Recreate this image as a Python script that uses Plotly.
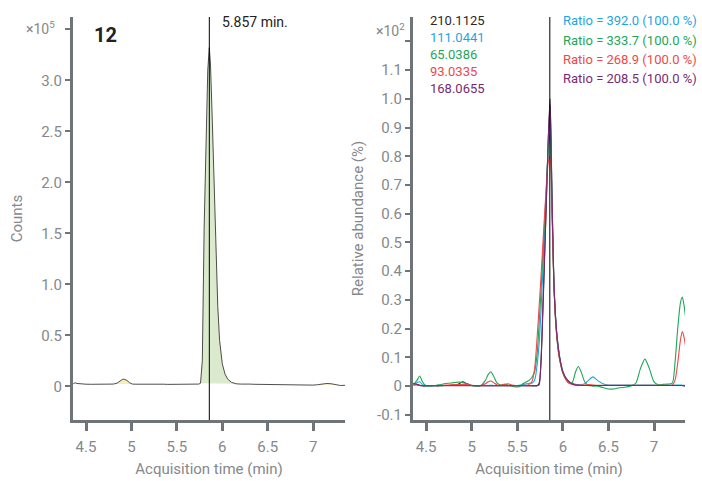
import plotly.graph_objects as go

# ---------------- data ----------------
# Left panel: TIC-like chromatogram (Counts, x10^5)
t_left = [4.36, 4.38, 4.40, 4.45, 4.50, 4.55, 4.60, 4.65, 4.70, 4.75, 4.80, 4.84, 4.87, 4.90,
          4.92, 4.95, 4.98, 5.01, 5.05, 5.10, 5.15, 5.20, 5.25, 5.30, 5.35, 5.40, 5.45, 5.50,
          5.55, 5.60, 5.65, 5.70, 5.74, 5.76, 5.78, 5.80, 5.82, 5.84, 5.857, 5.87, 5.89, 5.91,
          5.93, 5.95, 5.97, 6.00, 6.03, 6.06, 6.10, 6.15, 6.20, 6.25, 6.30, 6.35, 6.40, 6.45,
          6.50, 6.55, 6.60, 6.65, 6.70, 6.75, 6.80, 6.85, 6.90, 6.95, 7.00, 7.05, 7.10, 7.15,
          7.20, 7.25, 7.30, 7.35]
counts = [0.025, 0.035, 0.028, 0.022, 0.021, 0.020, 0.020, 0.021, 0.021, 0.020, 0.022, 0.030, 0.050, 0.068,
          0.070, 0.058, 0.035, 0.022, 0.021, 0.022, 0.020, 0.018, 0.020, 0.022, 0.021, 0.019, 0.020, 0.021,
          0.020, 0.019, 0.020, 0.021, 0.022, 0.030, 0.25, 1.55, 2.50, 3.10, 3.32, 3.15, 2.60, 1.90,
          1.25, 0.78, 0.45, 0.22, 0.12, 0.07, 0.04, 0.025, 0.022, 0.024, 0.022, 0.020, 0.019, 0.020,
          0.018, 0.017, 0.016, 0.014, 0.013, 0.014, 0.012, 0.010, 0.009, 0.010, 0.012, 0.016, 0.022, 0.028,
          0.025, 0.015, 0.008, 0.010]
main_peak = (5.76, 6.15)
minor_peaks = [(4.80, 5.01), (7.05, 7.25)]
rt_marker = 5.857

# Right panel: qualifier ions (relative abundance, x10^2 %)
t_right = [4.36, 4.40, 4.43, 4.46, 4.50, 4.55, 4.60, 4.65, 4.70, 4.75, 4.80, 4.85, 4.90, 4.95, 5.00,
           5.05, 5.10, 5.15, 5.18, 5.21, 5.24, 5.28, 5.32, 5.36, 5.40, 5.44, 5.48, 5.52, 5.56, 5.60,
           5.63, 5.66, 5.69, 5.72, 5.74, 5.76, 5.78, 5.80, 5.82, 5.84, 5.86, 5.88, 5.90, 5.92, 5.94,
           5.96, 5.98, 6.00, 6.03, 6.06, 6.10, 6.14, 6.17, 6.20, 6.24, 6.28, 6.33, 6.38, 6.44, 6.50,
           6.56, 6.62, 6.68, 6.74, 6.80, 6.85, 6.90, 6.95, 7.00, 7.05, 7.10, 7.15, 7.20, 7.23, 7.26,
           7.29, 7.31, 7.33, 7.35]
ion_210 = [0.010, 0.005, 0.002, 0.001, 0.001, 0.001, 0.001, 0.001, 0.002, 0.002, 0.003, 0.006, 0.015, 0.008, 0.002,
           0.001, 0.001, 0.001, 0.001, 0.001, 0.001, 0.001, 0.001, 0.001, 0.001, 0.001, 0.001, 0.001, 0.001, 0.001,
           0.001, 0.001, 0.001, 0.002, 0.010, 0.08, 0.25, 0.45, 0.65, 0.86, 1.00, 0.68, 0.38, 0.24, 0.16,
           0.11, 0.075, 0.050, 0.030, 0.018, 0.008, 0.004, 0.003, 0.002, 0.002, 0.002, 0.002, 0.002, 0.002, 0.002,
           0.002, 0.002, 0.002, 0.002, 0.002, 0.002, 0.002, 0.002, 0.002, 0.002, 0.002, 0.002, 0.002, 0.002, 0.002,
           0.002, 0.002, 0.001, 0.001]
ion_111 = [0.005, 0.012, 0.015, 0.005, 0.002, 0.002, 0.002, 0.002, 0.002, 0.002, 0.002, 0.002, 0.003, 0.002, 0.002,
           0.002, 0.002, 0.002, 0.002, 0.003, 0.002, 0.002, 0.002, 0.002, 0.002, 0.002, 0.002, 0.003, 0.005, 0.008,
           0.010, 0.010, 0.020, 0.08, 0.15, 0.26, 0.40, 0.54, 0.68, 0.84, 0.93, 0.66, 0.38, 0.24, 0.16,
           0.11, 0.075, 0.050, 0.030, 0.018, 0.010, 0.006, 0.005, 0.005, 0.008, 0.020, 0.032, 0.020, 0.008, 0.004,
           0.004, 0.004, 0.004, 0.004, 0.004, 0.004, 0.004, 0.004, 0.004, 0.004, 0.004, 0.004, 0.004, 0.004, 0.004,
           0.004, 0.003, 0.003, 0.003]
ion_65 = [0.005, 0.020, 0.035, 0.015, 0.000, 0.000, 0.002, 0.005, 0.008, 0.010, 0.012, 0.014, 0.013, 0.008, 0.002,
          0.000, 0.002, 0.020, 0.040, 0.050, 0.035, 0.010, 0.004, 0.006, 0.004, 0.000, -0.003, -0.002, 0.008, 0.015,
          0.020, 0.030, 0.050, 0.12, 0.22, 0.33, 0.45, 0.57, 0.70, 0.82, 0.88, 0.64, 0.37, 0.23, 0.15,
          0.10, 0.07, 0.045, 0.025, 0.012, 0.010, 0.050, 0.068, 0.050, 0.015, 0.002, 0.000, 0.000, -0.005, -0.010,
          -0.010, -0.006, -0.004, 0.000, 0.010, 0.060, 0.094, 0.060, 0.015, 0.005, 0.006, 0.007, 0.010, 0.080, 0.200,
          0.290, 0.310, 0.280, 0.230]
ion_93 = [0.002, 0.005, 0.003, 0.002, 0.002, 0.002, 0.002, 0.002, 0.003, 0.004, 0.005, 0.005, 0.006, 0.005, 0.003,
          0.002, 0.002, 0.008, 0.015, 0.018, 0.012, 0.004, 0.003, 0.006, 0.008, 0.004, 0.002, 0.002, 0.002, 0.003,
          0.006, 0.015, 0.060, 0.18, 0.28, 0.38, 0.49, 0.60, 0.70, 0.78, 0.80, 0.62, 0.37, 0.23, 0.15,
          0.10, 0.07, 0.045, 0.025, 0.012, 0.006, 0.004, 0.004, 0.004, 0.004, 0.005, 0.004, 0.003, 0.003, 0.003,
          0.003, 0.003, 0.003, 0.003, 0.003, 0.003, 0.003, 0.003, 0.003, 0.003, 0.003, 0.003, 0.003, 0.020, 0.080,
          0.160, 0.190, 0.170, 0.130]
ion_168 = [0.008, 0.006, 0.003, 0.001, 0.001, 0.001, 0.001, 0.001, 0.001, 0.001, 0.001, 0.001, 0.001, 0.001, 0.001,
           0.001, 0.001, 0.001, 0.001, 0.001, 0.001, 0.001, 0.001, 0.001, 0.001, 0.001, 0.001, 0.001, 0.001, 0.001,
           0.001, 0.001, 0.001, 0.001, 0.005, 0.09, 0.27, 0.46, 0.66, 0.86, 0.98, 0.67, 0.38, 0.24, 0.16,
           0.11, 0.075, 0.050, 0.030, 0.018, 0.008, 0.004, 0.003, 0.002, 0.002, 0.002, 0.002, 0.002, 0.002, 0.002,
           0.002, 0.002, 0.002, 0.002, 0.002, 0.002, 0.002, 0.002, 0.002, 0.002, 0.002, 0.002, 0.002, 0.002, 0.002,
           0.002, 0.002, 0.001, 0.001]

ion_labels = ["210.1125", "111.0441", "65.0386", "93.0335", "168.0655"]
ion_series = [ion_210, ion_111, ion_65, ion_93, ion_168]
ion_colors = ["#2a2a2a", "#1fa6e0", "#1ea65a", "#f04848", "#7a2a72"]
ratio_values = [392.0, 333.7, 268.9, 208.5]
ratio_pct = [100.0, 100.0, 100.0, 100.0]

left_ticks = [0, 0.5, 1.0, 1.5, 2.0, 2.5, 3.0]
left_ticktext = ["0", "0.5", "1.0", "1.5", "2.0", "2.5", "3.0"]
left_extra_tick = [3.5]
right_ticks = [-0.1, 0, 0.1, 0.2, 0.3, 0.4, 0.5, 0.6, 0.7, 0.8, 0.9, 1.0, 1.1]
right_ticktext = ["-0.1", "0", "0.1", "0.2", "0.3", "0.4", "0.5", "0.6", "0.7", "0.8", "0.9", "1.0", "1.1"]
right_extra_tick = [1.2]
x_ticks = [4.5, 5, 5.5, 6, 6.5, 7]
x_ticktext = ["4.5", "5", "5.5", "6", "6.5", "7"]

# ---------------- figure ----------------
W, H = 702, 481
AX = "#6f7479"
TXT = "#85888c"
FONT = "Roboto"

fig = go.Figure()


def add_fill(lo, hi, color):
    xs = [t for t in t_left if lo <= t <= hi]
    ys = [c for t, c in zip(t_left, counts) if lo <= t <= hi]
    fig.add_trace(go.Scatter(x=[xs[0], xs[-1]], y=[ys[0], ys[-1]], mode="lines",
                             line=dict(width=0, color=color), hoverinfo="skip",
                             showlegend=False, xaxis="x", yaxis="y"))
    fig.add_trace(go.Scatter(x=xs, y=ys, mode="lines", fill="tonexty", fillcolor=color,
                             line=dict(width=0, color=color), hoverinfo="skip",
                             showlegend=False, xaxis="x", yaxis="y"))


add_fill(main_peak[0], main_peak[1], "#dbeacd")
for lo, hi in minor_peaks:
    add_fill(lo, hi, "#f4efb6")

fig.add_trace(go.Scatter(x=t_left, y=counts, mode="lines", line=dict(color="#3a3a3a", width=0.9),
                         showlegend=False, xaxis="x", yaxis="y"))

for name, ys, col in zip(ion_labels, ion_series, ion_colors):
    fig.add_trace(go.Scatter(x=t_right, y=ys, mode="lines", name=name,
                             line=dict(color=col, width=1.1, shape="spline", smoothing=0.7),
                             showlegend=False, xaxis="x2", yaxis="y2"))

x1d = [73 / W, 345 / W]
x2d = [413 / W, 685 / W]

axis_common = dict(showline=True, linecolor=AX, linewidth=3, ticks="outside", tickcolor=AX,
                   showgrid=False, zeroline=False, tickfont=dict(family=FONT, size=15, color=TXT))

fig.update_layout(
    width=W, height=H,
    margin=dict(l=0, r=0, t=17, b=61, autoexpand=False),
    paper_bgcolor="white", plot_bgcolor="white",
    font=dict(family=FONT, color=TXT),
    xaxis=dict(domain=x1d, range=[4.357, 7.35], tickvals=x_ticks, ticktext=x_ticktext,
               ticklen=8, tickwidth=3, anchor="y", ticklabelstandoff=3,
               title=dict(text="Acquisition time (min)", font=dict(family=FONT, size=15, color=TXT), standoff=9),
               **axis_common),
    yaxis=dict(domain=[0, 1], range=[-0.33, 3.62], tickvals=left_ticks, ticktext=left_ticktext,
               ticklen=5, tickwidth=2, anchor="x",
               minor=dict(tickvals=left_extra_tick, ticklen=5, tickwidth=2, tickcolor=AX, ticks="outside",
                          showgrid=False),
               title=dict(text="Counts", font=dict(family=FONT, size=15, color=TXT), standoff=15),
               **axis_common),
    xaxis2=dict(domain=x2d, range=[4.356, 7.34], tickvals=x_ticks, ticktext=x_ticktext,
                ticklen=8, tickwidth=3, anchor="y2", ticklabelstandoff=3,
                title=dict(text="Acquisition time (min)", font=dict(family=FONT, size=15, color=TXT), standoff=9),
                **axis_common),
    yaxis2=dict(domain=[0, 1], range=[-0.118, 1.285], tickvals=right_ticks, ticktext=right_ticktext,
                ticklen=5, tickwidth=2, anchor="x2",
                minor=dict(tickvals=right_extra_tick, ticklen=5, tickwidth=2, tickcolor=AX, ticks="outside",
                           showgrid=False),
                title=dict(text="Relative abundance (%)", font=dict(family=FONT, size=15, color=TXT), standoff=10),
                **axis_common),
)

# retention time markers
for xr in ("x", "x2"):
    fig.add_shape(type="line", xref=xr, yref="paper", x0=rt_marker, x1=rt_marker, y0=0, y1=1,
                  line=dict(color="black", width=1))

ann = []
ann.append(dict(text="12", xref="paper", yref="paper", x=92 / W, y=1 - (35 - 17) / 403,
                xanchor="left", yanchor="middle", showarrow=False,
                font=dict(family=FONT, size=20, color="#222222", weight="bold")))
ann.append(dict(text=f"{rt_marker} min.", xref="paper", yref="paper", x=220 / W, y=1 - (22 - 17) / 403,
                xanchor="left", yanchor="middle", showarrow=False,
                font=dict(family=FONT, size=14, color="#222222")))
ann.append(dict(text="×10<sup>5</sup>", xref="paper", yref="paper", x=57 / W, y=1 - (28 - 17) / 403,
                xanchor="right", yanchor="middle", showarrow=False,
                font=dict(family=FONT, size=14, color=TXT)))
ann.append(dict(text="×10<sup>2</sup>", xref="paper", yref="paper", x=407 / W, y=1 - (30 - 17) / 403,
                xanchor="right", yanchor="middle", showarrow=False,
                font=dict(family=FONT, size=14, color=TXT)))
for i, (lab, col) in enumerate(zip(ion_labels, ion_colors)):
    yc = 21 + i * 16.8
    ann.append(dict(text=lab, xref="paper", yref="paper", x=428 / W, y=1 - (yc - 17) / 403,
                    xanchor="left", yanchor="middle", showarrow=False,
                    font=dict(family=FONT, size=13, color=col)))
for i, (rv, rp) in enumerate(zip(ratio_values, ratio_pct)):
    yc = 21 + i * 19.3
    ann.append(dict(text=f"Ratio = {rv:.1f} ({rp:.1f} %)", xref="paper", yref="paper", x=561 / W,
                    y=1 - (yc - 17) / 403, xanchor="left", yanchor="middle", showarrow=False,
                    font=dict(family=FONT, size=13, color=ion_colors[i + 1])))
fig.update_layout(annotations=ann)

fig.write_html("out.html", config={"displayModeBar": False},
               post_script="document.body.style.margin='0';document.body.style.overflow='hidden';")
